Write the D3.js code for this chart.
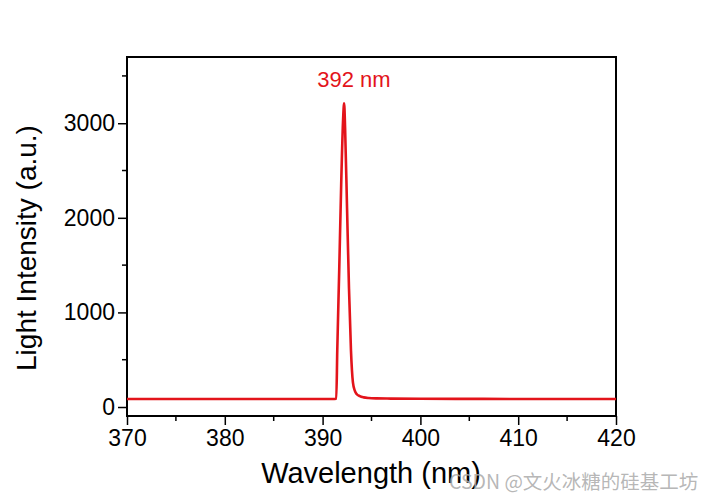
<!DOCTYPE html>
<html><head><meta charset="utf-8">
<script src="https://cdn.jsdelivr.net/npm/d3@7"></script>
<style>body{margin:0;background:#fff}</style>
</head><body>
<svg id="c" width="714" height="500"></svg>
<script>
const wavelength = [370, 380, 390, 391, 391.4, 391.5, 391.7, 391.9, 392.1, 392.2, 392.3, 392.5, 392.7, 392.9, 393.1, 393.3, 393.5, 393.8, 394.2, 394.7, 395.5, 397, 400, 405, 410, 415, 420];
const intensity  = [85, 85, 85, 85, 88, 600, 1450, 2350, 3050, 3210, 2950, 2100, 1250, 600, 260, 170, 135, 115, 102, 95, 91, 89, 87, 86, 85, 85, 85];
const xTicks = [370, 380, 390, 400, 410, 420];
const yTicks = [0, 1000, 2000, 3000];
const peakLabel = "392 nm";

const svg = d3.select("#c");
const L = 127, R = 616, T = 57, B = 416;
const x = d3.scaleLinear().domain([370, 420]).range([L, R]);
const y = d3.scaleLinear().domain([-95, 3700]).range([B, T]);
const font = "Arial, 'Liberation Sans', sans-serif";

// minor ticks
const g = svg.append("g");
d3.range(375, 420, 10).forEach(v => {
  g.append("line").attr("x1", x(v)).attr("x2", x(v)).attr("y1", B).attr("y2", B + 5).attr("stroke", "#000").attr("stroke-width", 1.5);
});
d3.range(500, 3700, 1000).forEach(v => {
  g.append("line").attr("x1", L).attr("x2", L - 5).attr("y1", y(v)).attr("y2", y(v)).attr("stroke", "#000").attr("stroke-width", 1.5);
});

const xa = svg.append("g").attr("transform", `translate(0,${B})`)
  .call(d3.axisBottom(x).tickValues(xTicks).tickSize(9).tickPadding(5).tickFormat(d3.format("d")));
const ya = svg.append("g").attr("transform", `translate(${L},0)`)
  .call(d3.axisLeft(y).tickValues(yTicks).tickSize(9).tickPadding(3).tickFormat(d3.format("d")));
[xa, ya].forEach(a => {
  a.select(".domain").remove();
  a.selectAll(".tick line").attr("stroke-width", 1.5);
  a.selectAll("text").attr("font-family", font).attr("font-size", 23).attr("fill", "#000");
});

// frame
svg.append("rect").attr("x", L).attr("y", T).attr("width", R - L).attr("height", B - T)
  .attr("fill", "none").attr("stroke", "#000").attr("stroke-width", 2);

const pts = wavelength.map((w, i) => [w, intensity[i]]);
svg.append("path").datum(pts)
  .attr("d", d3.line().x(d => x(d[0])).y(d => y(d[1])).curve(d3.curveMonotoneX))
  .attr("fill", "none").attr("stroke", "#e3141b").attr("stroke-width", 2.6);

svg.append("text").attr("x", 354).attr("y", 87).attr("text-anchor", "middle")
  .attr("font-family", font).attr("font-size", 22).attr("fill", "#e3141b").text(peakLabel);

svg.append("text").attr("transform", `translate(36,${248}) rotate(-90)`).attr("text-anchor", "middle")
  .attr("font-family", font).attr("font-size", 28).attr("fill", "#000").text("Light Intensity (a.u.)");
svg.append("text").attr("x", 371).attr("y", 483).attr("text-anchor", "middle")
  .attr("font-family", font).attr("font-size", 29).attr("fill", "#000").text("Wavelength (nm)");

svg.append("text").attr("x", 449).attr("y", 489)
  .attr("font-family", "'Noto Sans CJK SC', sans-serif").attr("font-size", 19.5).attr("fill", "#aaa").attr("fill-opacity", 0.85)
  .text("CSDN @文火冰糖的硅基工坊");
</script>
</body></html>
